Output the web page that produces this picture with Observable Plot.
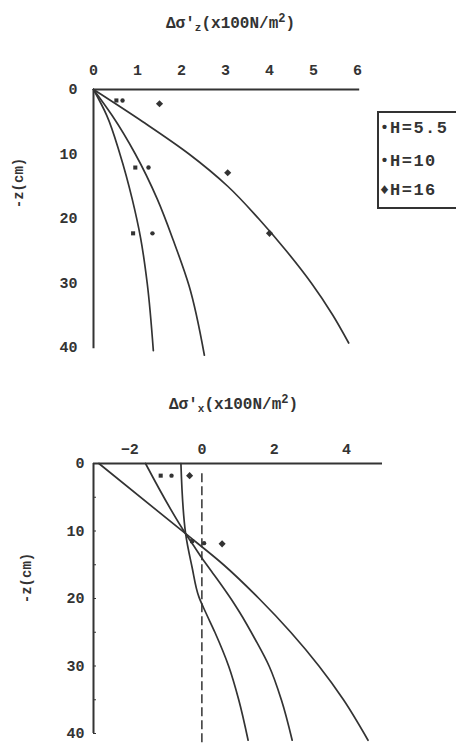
<!DOCTYPE html>
<html><head><meta charset="utf-8">
<script src="https://cdn.jsdelivr.net/npm/d3@7"></script>
<script src="https://cdn.jsdelivr.net/npm/@observablehq/plot@0.6"></script>
<style>
body{margin:0;background:#fff;width:456px;height:746px;position:relative;overflow:hidden;font-family:"Liberation Mono",monospace;color:#333}
.abs{position:absolute;white-space:nowrap}
.title{font-size:16px;font-weight:bold;line-height:18px}
.title sub{font-size:11px;vertical-align:-3px;line-height:0}
.title sup{font-size:12px;vertical-align:6px;line-height:0}
.ylab{font-size:14px;font-weight:bold;transform:translate(-50%,-50%) rotate(-90deg)}
.legend{left:377px;top:111px;width:100px;height:94px;border:2px solid #333;box-sizing:content-box}
.leg{font-size:17px;font-weight:bold;line-height:16px;letter-spacing:1.5px}
.mk{font-size:15px;font-weight:bold;line-height:16px}
svg{position:absolute;left:0}
</style></head><body>
<script>
// ---- data ----
const seriesNames = ["H=5.5", "H=10", "H=16"];
const topTicksX = [0, 1, 2, 3, 4, 5, 6];
const depthTicks = [0, 10, 20, 30, 40];
const minorDepth = [5, 15, 25, 35];
const botTicksX = [-2, 0, 2, 4];

// top chart: Δσz' (x100 N/m2) vs depth z (cm) — theoretical curves
const topCurve1 = [[0,0],[0.3,4],[0.6,10],[0.88,17],[1.07,23],[1.22,30],[1.36,40.5]];
const topCurve2 = [[0,0],[0.42,4],[0.95,10],[1.45,17],[1.82,23.5],[2.17,30.4],[2.52,41.2]];
const topCurve3 = [[0,0],[1.12,5],[2.17,10],[3.05,15],[3.75,20],[4.38,25],[4.95,30],[5.44,35],[5.8,39.3]];
// top chart measured points
const topPtsX55 = [0.52, 0.95, 0.9];
const topPtsZ55 = [1.7, 12.1, 22.3];
const topPtsX10 = [0.66, 1.25, 1.34];
const topPtsZ10 = [1.7, 12.1, 22.3];
const topPtsX16 = [1.5, 3.05, 4.0];
const topPtsZ16 = [2.2, 12.9, 22.3];

// bottom chart: Δσx' (x100 N/m2) vs depth z (cm)
const botCurveA = [[-0.58,0],[-0.45,10.4],[-0.27,15.4],[-0.08,19.8],[0.1,22],[0.36,25],[0.74,30],[1.02,35],[1.28,41]];
const botCurveB = [[-1.56,0],[-0.45,10.4],[-0.25,12],[0,14],[0.27,16],[0.54,18],[0.8,20],[1.04,22],[1.47,26],[1.86,30],[2.2,35],[2.5,41]];
const botCurveC = [[-2.85,0],[-0.45,10.4],[0.6,15],[1.58,20],[2.46,25],[3.24,30],[3.92,35],[4.6,41]];
const botPtsX55 = [-1.14, -0.27];
const botPtsZ55 = [1.8, 11.5];
const botPtsX10 = [-0.84, 0.06];
const botPtsZ10 = [1.8, 11.8];
const botPtsX16 = [-0.34, 0.56];
const botPtsZ16 = [1.8, 11.9];
const zeroLineZ = [1.5, 41.9];

// ---- helpers ----
const ink = "#333";
const pts = (xs, zs, s) => xs.map((x, i) => ({x, z: zs[i], s}));
const curveMarks = (curves) => curves.map(c => Plot.line(c, {x: d => d[0], y: d => d[1], stroke: ink, strokeWidth: 1.7, curve: "monotone-y"}));
const dotMarks = (sets) => [
  Plot.dot(sets[0], {x: "x", y: "z", r: 2.3, fill: ink, stroke: "none", symbol: "square"}),
  Plot.dot(sets[1], {x: "x", y: "z", r: 2.2, fill: ink, stroke: "none"}),
  Plot.dot(sets[2], {x: "x", y: "z", r: 3.2, fill: ink, stroke: "none", symbol: "diamond2"})
];
const baseStyle = {background: "transparent", fontFamily: "Liberation Mono, monospace", fontSize: "15px", fontWeight: "bold", color: ink, overflow: "visible"};

// ---- top plot ----
const topPlot = Plot.plot({
  width: 456, height: 375,
  marginLeft: 93, marginRight: 99, marginTop: 89, marginBottom: 28,
  style: baseStyle,
  x: {domain: [0, 6]},
  y: {domain: [0, 40], reverse: true},
  marks: [
    Plot.axisX(topTicksX, {anchor: "top", tickSize: 0, tickPadding: 15, label: null}),
    Plot.axisY(depthTicks, {anchor: "left", tickSize: 0, tickPadding: 16, label: null}),
    Plot.ruleY([0], {x1: 0, x2: 6.05, stroke: ink, strokeWidth: 2}),
    Plot.ruleX([0], {y1: 0, y2: 40.2, stroke: ink, strokeWidth: 2}),
    ...curveMarks([topCurve1, topCurve2, topCurve3]),
    ...dotMarks([pts(topPtsX55, topPtsZ55, 0), pts(topPtsX10, topPtsZ10, 1), pts(topPtsX16, topPtsZ16, 2)])
  ]
});
topPlot.style.top = "0px";
document.body.appendChild(topPlot);

// ---- bottom plot ----
const botPlot = Plot.plot({
  width: 456, height: 371,
  marginLeft: 93, marginRight: 74, marginTop: 88, marginBottom: 13,
  style: baseStyle,
  x: {domain: [-3, 5]},
  y: {domain: [0, 40], reverse: true},
  marks: [
    Plot.axisX(botTicksX, {anchor: "top", tickSize: 0, tickPadding: 10, label: null}),
    Plot.axisY(depthTicks, {anchor: "left", tickSize: 0, tickPadding: 9, label: null}),
    Plot.axisY(minorDepth.concat(depthTicks), {anchor: "left", tickSize: -3, tickFormat: () => "", label: null, stroke: ink}),
    Plot.ruleY([0], {x1: -3, x2: 5, stroke: ink, strokeWidth: 2}),
    Plot.ruleX([0], {x: -3, y1: 0, y2: 40, stroke: ink, strokeWidth: 2}),
    Plot.ruleX([0], {y1: zeroLineZ[0], y2: zeroLineZ[1], stroke: ink, strokeWidth: 1.5, strokeDasharray: "9,4"}),
    ...curveMarks([botCurveA, botCurveB, botCurveC]),
    ...dotMarks([pts(botPtsX55, botPtsZ55, 0), pts(botPtsX10, botPtsZ10, 1), pts(botPtsX16, botPtsZ16, 2)])
  ]
});
botPlot.style.top = "375px";
document.body.appendChild(botPlot);
</script>
<div class="abs title" style="left:166px;top:15px">Δσ′<sub>z</sub>(x100N/m<sup>2</sup>)</div>
<div class="abs title" style="left:169px;top:396px">Δσ′<sub>x</sub>(x100N/m<sup>2</sup>)</div>
<div class="abs ylab" style="left:19px;top:183px">-z(cm)</div>
<div class="abs ylab" style="left:27px;top:578px">-z(cm)</div>
<div class="abs legend"></div>
<div class="abs mk" style="left:380px;top:121px">•</div>
<div class="abs leg" style="left:390px;top:121px">H=5.5</div>
<div class="abs mk" style="left:380px;top:154px">•</div>
<div class="abs leg" style="left:390px;top:154px">H=10</div>
<div class="abs mk" style="left:380px;top:183px">♦</div>
<div class="abs leg" style="left:390px;top:183px">H=16</div>
</body></html>
